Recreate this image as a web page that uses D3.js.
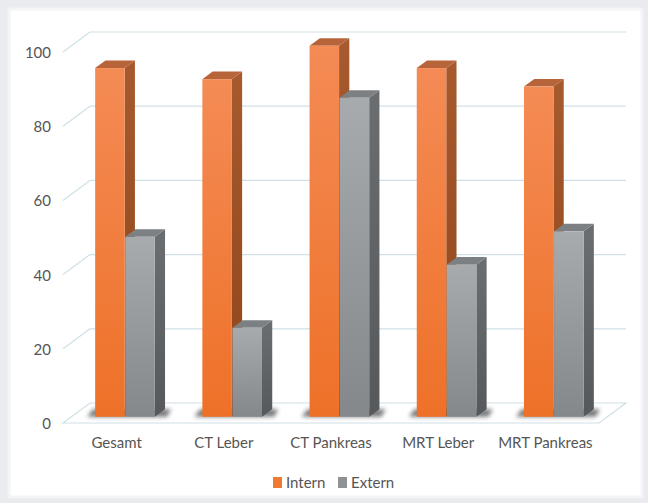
<!DOCTYPE html>
<html>
<head>
<meta charset="utf-8">
<script src="https://cdn.jsdelivr.net/npm/d3@7"></script>
<style>
  body { margin: 0; background: #e9ebee; }
  svg { display: block; }
  text { font-family: Lato, "Open Sans", sans-serif; fill: #555; }
</style>
</head>
<body>
<div id="chart"></div>
<script>
var categories = ["Gesamt", "CT Leber", "CT Pankreas", "MRT Leber", "MRT Pankreas"];
var series = ["Intern", "Extern"];
var intern = [94, 91, 100, 94, 89];
var extern = [48.5, 24, 86, 41, 50];
var yTicks = [0, 20, 40, 60, 80, 100];

var width = 648, height = 503;
var depthX = 27, depthY = 20;      // wall depth offset
var barFront = 0.31, barBack = 0.69; // bar position inside the depth

var svg = d3.select("#chart").append("svg").attr("width", width).attr("height", height);

var defs = svg.append("defs");
var blur = defs.append("filter").attr("id", "blur").attr("x", "-50%").attr("y", "-50%").attr("width", "200%").attr("height", "200%");
blur.append("feGaussianBlur").attr("stdDeviation", 2.2);

function grad(id, c1, c2) {
  var g = defs.append("linearGradient").attr("id", id).attr("x1", 0).attr("y1", 0).attr("x2", 0).attr("y2", 1);
  g.append("stop").attr("offset", "0%").attr("stop-color", c1);
  g.append("stop").attr("offset", "100%").attr("stop-color", c2);
}
grad("gIntern", "#f48b55", "#ee7128");
grad("gExtern", "#a8abad", "#85888b");
grad("sIntern", "#a65a2e", "#8f4419");
grad("sExtern", "#6a6e71", "#55595c");

var colors = {
  Intern: { front: "url(#gIntern)", side: "url(#sIntern)", top: "#b8643a", legend: "#f07a32" },
  Extern: { front: "url(#gExtern)", side: "url(#sExtern)", top: "#7c8083", legend: "#8f9295" }
};

// white panel
svg.append("rect").attr("x", 9).attr("y", 9).attr("width", 633).attr("height", 488).attr("fill", "#fff")
  .attr("stroke", "#f3f4f6").attr("stroke-width", 3);

var x = d3.scaleBand().domain(categories).range([63, 599]);
var xSub = d3.scaleBand().domain(series).range([0, x.bandwidth()]).paddingInner(0.02).paddingOuter(0.79);
var y = d3.scaleLinear().domain([0, 100]).range([423, 52]);

function px(xv, f) { return xv + f * depthX; }
function py(yv, f) { return yv - f * depthY; }

var grid = svg.append("g").attr("stroke", "#cfe0e6").attr("stroke-width", 1.2).attr("fill", "none");
// back wall lines
grid.selectAll("line.back").data(yTicks.slice(1)).enter().append("line")
  .attr("x1", px(63, 1)).attr("x2", px(599, 1))
  .attr("y1", function(d) { return py(y(d), 1); }).attr("y2", function(d) { return py(y(d), 1); });
// left wall diagonals
grid.selectAll("line.side").data(yTicks.slice(1)).enter().append("line")
  .attr("x1", 63).attr("x2", px(63, 1))
  .attr("y1", function(d) { return y(d); }).attr("y2", function(d) { return py(y(d), 1); });
// floor
grid.append("path")
  .attr("d", d3.line()([[63, y(0)], [599, y(0)], [px(599, 1), py(y(0), 1)], [px(63, 1), py(y(0), 1)]]) + "Z")
  .attr("fill", "#fff");

// bars
var rows = [];
categories.forEach(function(c, i) {
  rows.push({ cat: c, s: "Intern", v: intern[i] });
  rows.push({ cat: c, s: "Extern", v: extern[i] });
});

var dx = (barBack - barFront) * depthX, dy = (barBack - barFront) * depthY;

// floor shadows
svg.append("g").selectAll("path").data(categories).enter().append("path")
  .attr("filter", "url(#blur)").attr("fill", "#3d3f42").attr("opacity", 0.7)
  .attr("d", function(c) {
    var xl = px(x(c) + xSub("Intern"), barFront) - 8;
    var xr = px(x(c) + xSub("Extern") + xSub.bandwidth(), barFront) + dx + 6;
    var yb = py(y(0), barFront);
    return d3.line()([[xl, yb], [xr - 4, yb], [xr, yb - dy], [xl + 6, yb - dy]]) + "Z";
  });

var bars = svg.append("g").selectAll("g").data(rows).enter().append("g");
bars.each(function(d) {
  var g = d3.select(this);
  var xl = px(x(d.cat) + xSub(d.s), barFront);
  var xr = xl + xSub.bandwidth();
  var yt = py(y(d.v), barFront);
  var yb = py(y(0), barFront);
  var col = colors[d.s];
  g.append("path").attr("fill", col.side)
    .attr("d", d3.line()([[xr, yt], [xr + dx, yt - dy], [xr + dx, yb - dy], [xr, yb]]) + "Z");
  g.append("path").attr("fill", col.top)
    .attr("d", d3.line()([[xl, yt], [xr, yt], [xr + dx, yt - dy], [xl + dx, yt - dy]]) + "Z");
  g.append("rect").attr("x", xl).attr("y", yt).attr("width", xr - xl).attr("height", yb - yt).attr("fill", col.front);
});

// y axis labels
var yAxis = svg.append("g").attr("transform", "translate(52,0)")
  .call(d3.axisLeft(y).tickValues(yTicks).tickSize(0).tickPadding(1));
yAxis.select(".domain").remove();
yAxis.selectAll("text").style("font-size", "15px").style("font-family", "Lato, sans-serif").attr("fill", "#555").attr("dy", "0.36em");

// x axis labels
var xAxis = svg.append("g").attr("transform", "translate(0,448)")
  .call(d3.axisBottom(x).tickSize(0).tickPadding(0));
xAxis.select(".domain").remove();
xAxis.selectAll("text").style("font-size", "15px").style("font-family", "Lato, sans-serif").attr("fill", "#555").attr("y", 0).attr("dy", 0);

// legend
var legendX = [273, 338];
var legend = svg.append("g").selectAll("g").data(series).enter().append("g")
  .attr("transform", function(d, i) { return "translate(" + legendX[i] + ",477)"; });
legend.append("rect").attr("width", 9).attr("height", 11).attr("fill", function(d) { return colors[d].legend; });
legend.append("text").attr("x", 13).attr("y", 10.5).style("font-size", "15px").text(function(d) { return d; });
</script>
</body>
</html>
